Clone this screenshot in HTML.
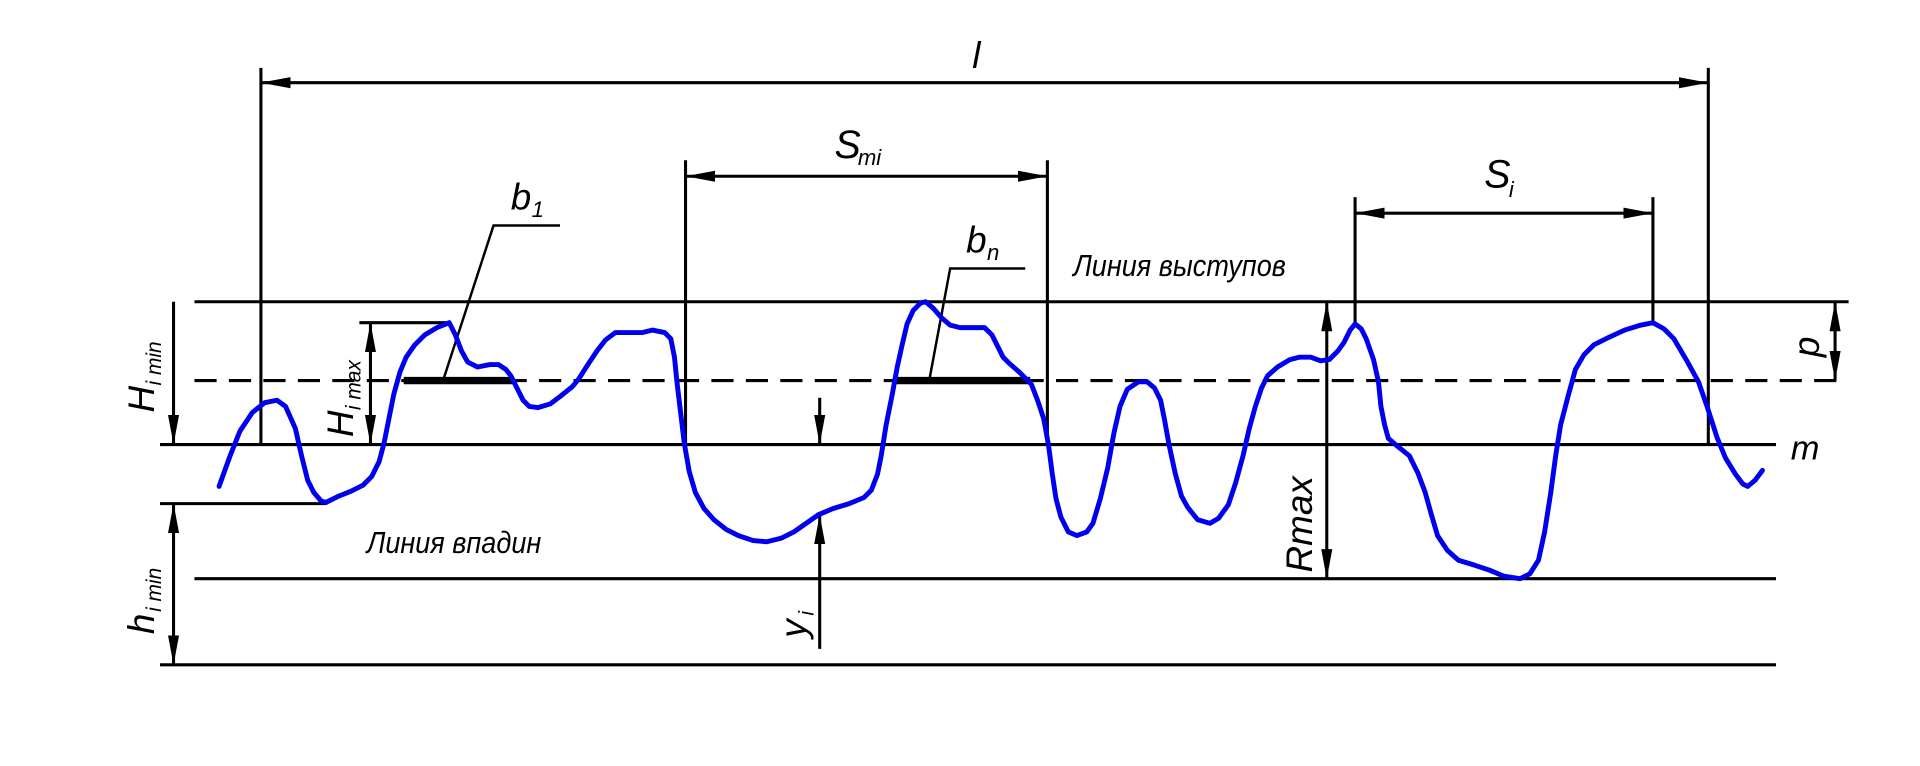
<!DOCTYPE html>
<html><head><meta charset="utf-8"><style>html,body{margin:0;padding:0;background:#fff}svg{display:block}text{font-family:"Liberation Sans","DejaVu Sans",sans-serif;font-style:italic;fill:#000}</style></head><body>
<svg width="1920" height="766" viewBox="0 0 1560 622" xmlns="http://www.w3.org/2000/svg">
<defs>
<marker id="a" viewBox="0 0 24 10" refX="24" refY="5" markerWidth="24" markerHeight="10" markerUnits="userSpaceOnUse" orient="auto-start-reverse"><path d="M0,0.5 L24,5 L0,9.5 Z" fill="#000"/></marker>
</defs>
<g stroke="#000" stroke-width="2.5" fill="none">
<line x1="158" y1="245" x2="1502" y2="245" stroke-width="2.5"/>
<line x1="158" y1="309" x2="1502" y2="309" stroke-width="2.5" stroke-dasharray="18,10"/>
<line x1="130" y1="361" x2="1443" y2="361" stroke-width="2.5"/>
<line x1="130" y1="409" x2="265" y2="409" stroke-width="2.5"/>
<line x1="158" y1="470" x2="1443" y2="470" stroke-width="2.5"/>
<line x1="130" y1="540" x2="1443" y2="540" stroke-width="2.5"/>
<line x1="212" y1="55" x2="212" y2="361"/>
<line x1="1388" y1="55" x2="1388" y2="361"/>
<line x1="557" y1="130" x2="557" y2="361"/>
<line x1="851" y1="130" x2="851" y2="361"/>
<line x1="1101" y1="160" x2="1101" y2="263"/>
<line x1="1343" y1="160" x2="1343" y2="262"/>
<line x1="292" y1="262" x2="365" y2="262"/>
<line x1="212" y1="67" x2="1388" y2="67" stroke-width="2.5" marker-start="url(#a)" marker-end="url(#a)"/>
<line x1="557" y1="143" x2="851" y2="143" stroke-width="2.5" marker-start="url(#a)" marker-end="url(#a)"/>
<line x1="1101" y1="173" x2="1343" y2="173" stroke-width="2.5" marker-start="url(#a)" marker-end="url(#a)"/>
<line x1="141" y1="245" x2="141" y2="361" marker-end="url(#a)"/>
<line x1="141" y1="409" x2="141" y2="540" marker-start="url(#a)" marker-end="url(#a)"/>
<line x1="301" y1="262" x2="301" y2="361" marker-start="url(#a)" marker-end="url(#a)"/>
<line x1="1078" y1="245" x2="1078" y2="470" marker-start="url(#a)" marker-end="url(#a)"/>
<line x1="1491" y1="245" x2="1491" y2="309" marker-start="url(#a)" marker-end="url(#a)"/>
<line x1="666" y1="323" x2="666" y2="361" marker-end="url(#a)"/>
<line x1="666" y1="527" x2="666" y2="418" marker-end="url(#a)"/>
<polyline points="360,309 401,183 455,183" stroke-width="2"/>
<polyline points="755,309 772,218 833,218" stroke-width="2"/>
<line x1="328" y1="309" x2="417" y2="309" stroke-width="6"/>
<line x1="727" y1="309" x2="837" y2="309" stroke-width="6"/>
</g>
<polyline fill="none" stroke="#0000ee" stroke-width="4" stroke-linejoin="round" stroke-linecap="round" points="178,395 187,370 195,350 205,335 215,327 225,325 232,330 240,348 245,370 250,390 255,400 261,407 265,408 275,403 285,399 295,394 302,387 308,375 312,360 316,340 320,320 325,302 330,290 337,280 345,272 355,266 365,262 370,272 375,285 380,294 388,298 398,296 405,296 411,300 415,305 420,315 425,325 430,330 437,331 447,328 455,322 465,314 470,308 477,297 485,285 492,276 500,270 512,270 522,270 530,268 540,270 545,275 548,290 550,310 553,335 556,360 560,383 565,400 572,413 580,422 590,430 600,435 612,439 623,440 635,437 645,432 655,425 665,418 677,413 690,409 702,404 708,398 713,385 716,370 720,345 725,320 729,298 733,280 737,263 742,252 748,246 752,245 758,250 765,258 772,264 780,266 790,266 800,266 806,272 810,280 815,290 820,295 828,302 838,312 843,325 848,340 852,362 855,385 858,405 862,420 868,432 875,435 883,432 888,425 894,405 900,380 905,352 910,330 916,316 925,310 932,310 938,315 943,325 946,340 950,362 955,385 960,403 965,412 973,422 983,425 990,421 998,410 1004,392 1010,370 1015,348 1020,330 1025,315 1030,305 1038,298 1048,292 1056,290 1065,290 1073,293 1080,292 1087,285 1092,278 1097,268 1101,263 1106,267 1110,275 1116,292 1120,310 1122,330 1125,345 1128,356 1135,362 1145,370 1152,384 1158,400 1163,418 1168,435 1176,447 1185,455 1198,459 1210,463 1222,468 1235,470 1243,466 1250,455 1255,432 1260,400 1264,370 1268,345 1274,322 1280,300 1287,288 1295,280 1307,274 1320,268 1333,264 1343,262 1352,267 1360,275 1370,292 1380,310 1387,330 1395,355 1402,372 1410,385 1416,393 1420,395 1426,390 1432,382"/>
<text x="790" y="55" font-size="30">l</text>
<text x="678" y="128" font-size="32">S</text><text x="697" y="134" font-size="18">mi</text>
<text x="1206" y="152" font-size="32">S</text><text x="1226" y="160" font-size="18">i</text>
<text x="415" y="170" font-size="30">b</text><text x="432" y="176" font-size="18">1</text>
<text x="785" y="205" font-size="30">b</text><text x="802" y="211" font-size="18">n</text>
<text x="872" y="224" font-size="25" transform="scale(0.88,1)" transform-origin="872 224">Линия выступов</text>
<text x="298" y="449" font-size="25" transform="scale(0.88,1)" transform-origin="298 449">Линия впадин</text>
<text x="1455" y="373" font-size="28">m</text>
<g transform="translate(125,335) rotate(-90)"><text x="0" y="0" font-size="30">H</text><text x="22" y="6" font-size="17">i min</text></g>
<g transform="translate(287,355) rotate(-90)"><text x="0" y="0" font-size="30">H</text><text x="22" y="6" font-size="17">i max</text></g>
<g transform="translate(125,515) rotate(-90)"><text x="0" y="0" font-size="30">h</text><text x="18" y="6" font-size="17">i min</text></g>
<g transform="translate(655,518) rotate(-90)"><text x="0" y="0" font-size="30">y</text><text x="18" y="6" font-size="17">i</text></g>
<g transform="translate(1066,465) rotate(-90)"><text x="0" y="0" font-size="30">Rmax</text></g>
<g transform="translate(1478,290) rotate(-90)"><text x="0" y="0" font-size="30">p</text></g>
</svg>
</body></html>
